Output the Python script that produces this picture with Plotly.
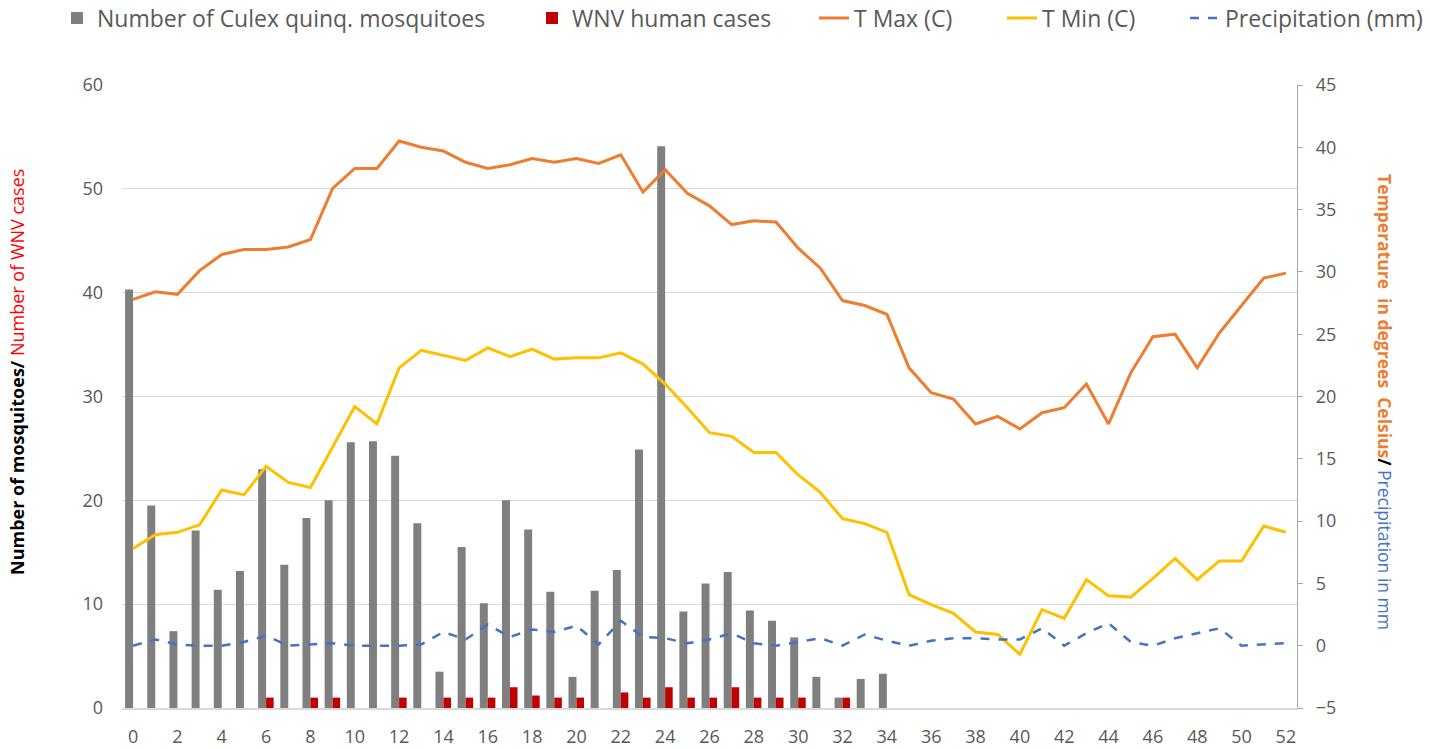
import plotly.graph_objects as go

weeks = list(range(53))

mosquitoes = [40.3, 19.5, 7.4, 17.1, 11.4, 13.2, 23.0, 13.8, 18.3, 20.0,
              25.6, 25.7, 24.3, 17.8, 3.5, 15.5, 10.1, 20.0, 17.2, 11.2,
              3.0, 11.3, 13.3, 24.9, 54.1, 9.3, 12.0, 13.1, 9.4, 8.4,
              6.8, 3.0, 1.0, 2.8, 3.3] + [None] * 18

wnv_cases = [None, None, None, None, None, None, 1, None, 1, 1,
             None, None, 1, None, 1, 1, 1, 2, 1.2, 1,
             1, None, 1.5, 1, 2, 1, 1, 2, 1, 1,
             1, None, 1] + [None] * 20

t_max = [27.8, 28.4, 28.2, 30.1, 31.4, 31.8, 31.8, 32.0, 32.6, 36.7,
         38.3, 38.3, 40.5, 40.0, 39.7, 38.8, 38.3, 38.6, 39.1, 38.8,
         39.1, 38.7, 39.4, 36.4, 38.2, 36.3, 35.3, 33.8, 34.1, 34.0,
         31.9, 30.3, 27.7, 27.3, 26.6, 22.3, 20.3, 19.8, 17.8, 18.4,
         17.4, 18.7, 19.1, 21.0, 17.8, 21.9, 24.8, 25.0, 22.3, 25.1,
         27.3, 29.5, 29.9]

t_min = [7.8, 8.9, 9.1, 9.7, 12.5, 12.1, 14.4, 13.1, 12.7, 16.0,
         19.2, 17.8, 22.3, 23.7, 23.3, 22.9, 23.9, 23.2, 23.8, 23.0,
         23.1, 23.1, 23.5, 22.6, 21.0, 19.1, 17.1, 16.8, 15.5, 15.5,
         13.7, 12.3, 10.2, 9.8, 9.1, 4.1, 3.3, 2.6, 1.1, 0.9,
         -0.7, 2.9, 2.2, 5.3, 4.0, 3.9, 5.4, 7.0, 5.3, 6.8,
         6.8, 9.6, 9.1]

precip = [0.0, 0.5, 0.1, 0.0, 0.0, 0.3, 0.8, 0.0, 0.1, 0.2,
          0.0, 0.0, 0.0, 0.1, 1.1, 0.5, 1.7, 0.7, 1.3, 1.1,
          1.6, 0.1, 2.0, 0.7, 0.6, 0.2, 0.5, 1.0, 0.2, 0.0,
          0.3, 0.6, 0.0, 0.9, 0.4, 0.0, 0.4, 0.6, 0.6, 0.5,
          0.5, 1.4, 0.0, 1.0, 1.8, 0.3, 0.0, 0.6, 1.0, 1.4,
          0.0, 0.1, 0.2]

x_ticks = list(range(0, 53, 2))

FONT = "Open Sans, Lato, Liberation Sans, sans-serif"
TICK_COLOR = "#595959"

W, H = 1430, 749
L, R, T, B = 122, 133, 85, 41
PW, PH = W - L - R, H - T - B


def px_x(px):
    return (px - L) / PW


def px_y(py):
    return (H - B - py) / PH


fig = go.Figure()

fig.add_trace(go.Bar(
    x=weeks, y=mosquitoes, name="Number of Culex quinq. mosquitoes",
    marker=dict(color="#7F7F7F", line=dict(width=0)),
    width=0.36, offset=-0.36, legend="legend", yaxis="y"))

fig.add_trace(go.Bar(
    x=weeks, y=wnv_cases, name="WNV human cases",
    marker=dict(color="#C00000", line=dict(width=0)),
    width=0.34, offset=0.0, legend="legend2", yaxis="y"))

fig.add_trace(go.Scatter(
    x=weeks, y=t_max, name="T Max (C)", mode="lines",
    line=dict(color="#ED7D31", width=3), legend="legend3", yaxis="y2"))

fig.add_trace(go.Scatter(
    x=weeks, y=t_min, name="T Min (C)", mode="lines",
    line=dict(color="#FFC000", width=3), legend="legend4", yaxis="y2"))

fig.add_trace(go.Scatter(
    x=weeks, y=precip, name="Precipitation (mm)", mode="lines",
    line=dict(color="#4472C4", width=2.5, dash="dash"), legend="legend5", yaxis="y2"))

leg_common = dict(orientation="h", yanchor="middle", y=px_y(18), xanchor="left",
                  font=dict(family=FONT, size=23, color=TICK_COLOR),
                  bgcolor="rgba(0,0,0,0)", borderwidth=0)

fig.update_layout(
    width=W, height=H,
    margin=dict(l=L, r=R, t=T, b=B, autoexpand=False),
    paper_bgcolor="white", plot_bgcolor="white",
    barmode="overlay",
    font=dict(family=FONT, color=TICK_COLOR),
    showlegend=True,
    legend=dict(x=px_x(57), **leg_common),
    legend2=dict(x=px_x(532), **leg_common),
    legend3=dict(x=px_x(814), **leg_common),
    legend4=dict(x=px_x(1002), **leg_common),
    legend5=dict(x=px_x(1185), **leg_common),
    xaxis=dict(range=[-0.5, 52.5], tickmode="array", tickvals=x_ticks,
               showgrid=False, zeroline=False, showline=True,
               linecolor="#D9D9D9", linewidth=1.5, ticks="",
               ticklabelstandoff=12,
               tickfont=dict(family=FONT, size=18, color=TICK_COLOR)),
    yaxis=dict(range=[0, 60], dtick=10, showgrid=True, gridcolor="#D9D9D9",
               gridwidth=1.3, zeroline=False, showline=False, ticks="",
               ticklabelstandoff=18,
               tickfont=dict(family=FONT, size=18, color=TICK_COLOR)),
    yaxis2=dict(range=[-5, 45], dtick=5, overlaying="y", side="right",
                showgrid=False, zeroline=False, showline=True,
                linecolor="#A6A6A6", linewidth=1.3, ticks="outside",
                ticklen=5, tickcolor="#A6A6A6", ticklabelstandoff=9,
                tickfont=dict(family=FONT, size=18, color=TICK_COLOR)),
)

fig.add_annotation(
    text="<b>Number of mosquitoes/</b> <span style='color:#FF0000'>Number of WNV cases</span>",
    xref="paper", yref="paper", x=px_x(17), y=px_y(372),
    xanchor="center", yanchor="middle", textangle=-90, showarrow=False,
    font=dict(family=FONT, size=18, color="#000000"))

fig.add_annotation(
    text="<b><span style='color:#ED7D31'>Temperature&nbsp; in degrees&nbsp; Celsius</span>/</b>"
         " <span style='color:#4472C4'>Precipitation in mm</span>",
    xref="paper", yref="paper", x=px_x(1385), y=px_y(402),
    xanchor="center", yanchor="middle", textangle=90, showarrow=False,
    font=dict(family=FONT, size=17.5, color="#000000"))

fig.write_html(
    "out.html",
    config={"displayModeBar": False},
    post_script="document.body.style.margin='0';document.body.style.padding='0';"
                "document.body.style.overflow='hidden';")
